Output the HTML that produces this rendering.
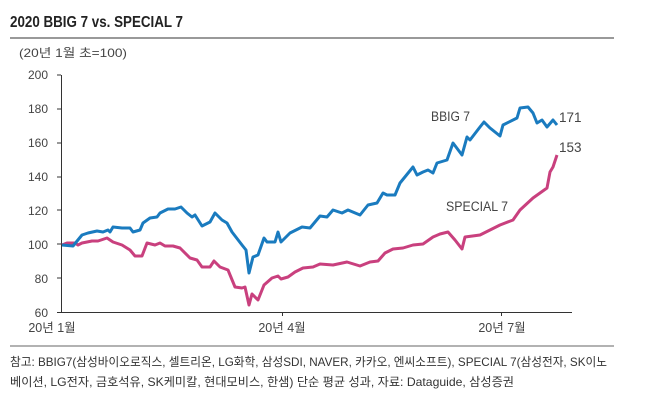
<!DOCTYPE html>
<html><head><meta charset="utf-8"><style>
body{margin:0;background:#fff;width:670px;height:406px;overflow:hidden;font-family:"Liberation Sans","Noto Sans CJK KR",sans-serif;}
</style></head><body>
<svg width="670" height="406" viewBox="0 0 670 406" xmlns="http://www.w3.org/2000/svg" style="font-family:'Liberation Sans','Noto Sans CJK KR',sans-serif">
<text x="10" y="27" font-size="16" font-weight="bold" fill="#222" textLength="173" lengthAdjust="spacingAndGlyphs">2020 BBIG 7 vs. SPECIAL 7</text>
<line x1="10" y1="38" x2="614" y2="38" stroke="#999" stroke-width="2"/>
<text x="19" y="57" font-size="12" fill="#444" textLength="108" lengthAdjust="spacingAndGlyphs">(20년 1월 초=100)</text>
<g font-size="12" fill="#444" text-anchor="end">
<text x="48" y="79">200</text><text x="48" y="113">180</text><text x="48" y="147">160</text><text x="48" y="181">140</text><text x="48" y="215">120</text><text x="48" y="249">100</text><text x="48" y="283">80</text><text x="48" y="317">60</text>
</g>
<g stroke="#333" stroke-width="1">
<line x1="61.5" y1="75" x2="61.5" y2="312"/>
<line x1="57" y1="75" x2="61" y2="75"/><line x1="57" y1="109" x2="61" y2="109"/><line x1="57" y1="143" x2="61" y2="143"/><line x1="57" y1="177" x2="61" y2="177"/><line x1="57" y1="210" x2="61" y2="210"/><line x1="57" y1="244" x2="61" y2="244"/><line x1="57" y1="278" x2="61" y2="278"/>
<line x1="57" y1="312.5" x2="572" y2="312.5"/>
<line x1="282.5" y1="312" x2="282.5" y2="316"/><line x1="501.5" y1="312" x2="501.5" y2="316"/>
</g>
<g font-size="12.5" fill="#444" text-anchor="middle">
<text x="52" y="332">20년 1월</text><text x="282" y="332">20년 4월</text><text x="502" y="332">20년 7월</text>
</g>
<polyline fill="none" stroke="#c9407e" stroke-width="3" stroke-linejoin="round" points="62,245 67,243 75,243 78,245 82,243 92,241 98,241 107,238 113,242 122,245 130,250 135,256 142,256 147,243 155,245 160,243 165,246 173,246 180,248 190,258 197,260 202,267 210,267 214,261 220,267 228,270 235,287 242,288 245,287 249,305 252,294 258,300 264,285 272,278 278,276 281,279 288,277 295,272 303,268 313,267 320,264 333,265 347,262 360,266 370,262 378,261 385,253 393,249 403,248 413,245 423,244 433,237 440,234 448,232 455,240 462,249 465,237 480,235 490,230 500,225 513,220 520,210 533,198 547,188 550,172 553,167 557,155"/>
<polyline fill="none" stroke="#1a7bbf" stroke-width="3" stroke-linejoin="round" points="62,245 73,246 82,235 88,233 97,231 103,232 108,230 110,232 113,227 122,228 130,228 133,232 140,230 143,223 150,218 157,217 160,213 168,209 175,209 181,207 187,213 192,217 195,215 202,226 210,222 215,213 222,220 227,223 232,232 242,245 246,250 249,273 253,257 258,255 264,238 267,242 275,242 278,232 281,242 290,233 302,227 310,228 320,216 327,217 333,210 342,213 348,210 360,215 368,205 377,203 383,193 387,195 395,195 400,183 413,167 417,175 423,172 428,170 433,173 437,163 447,160 453,143 462,155 467,137 470,140 480,127 484,122 490,128 500,136 503,125 517,118 520,108 528,107 533,113 537,123 542,120 547,127 553,120 557,125"/>
<g font-size="13.5" fill="#444">
<text x="431" y="121" textLength="39" lengthAdjust="spacingAndGlyphs">BBIG 7</text>
<text x="559" y="122">171</text>
<text x="559" y="152">153</text>
<text x="446" y="211" textLength="62" lengthAdjust="spacingAndGlyphs">SPECIAL 7</text>
</g>
<line x1="10" y1="346" x2="614" y2="346" stroke="#999" stroke-width="1.5"/>
<g font-size="12" fill="#333">
<text x="10" y="366" textLength="597" lengthAdjust="spacingAndGlyphs">참고: BBIG7(삼성바이오로직스, 셀트리온, LG화학, 삼성SDI, NAVER, 카카오, 엔씨소프트), SPECIAL 7(삼성전자, SK이노</text>
<text x="10" y="386" textLength="504" lengthAdjust="spacingAndGlyphs">베이션, LG전자, 금호석유, SK케미칼, 현대모비스, 한샘) 단순 평균 성과, 자료: Dataguide, 삼성증권</text>
</g>
</svg>
</body></html>
